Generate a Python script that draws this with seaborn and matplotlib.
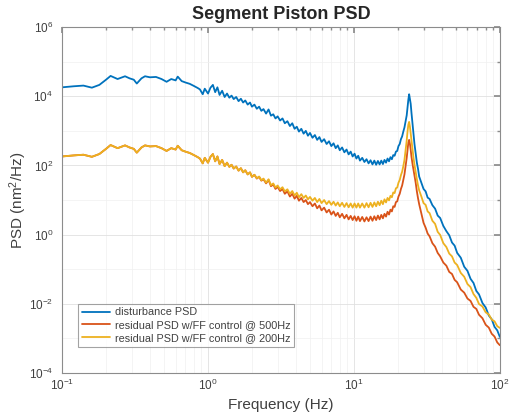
import numpy as np
import pandas as pd
import matplotlib
matplotlib.use("Agg")
import matplotlib.pyplot as plt
import seaborn as sns
from matplotlib.ticker import LogLocator, NullFormatter, FixedLocator

# frequency bins (Hz)
freq = [
    0.10, 0.12, 0.14, 0.16, 0.18, 0.20, 0.215, 0.24, 0.27, 0.29,
    0.31, 0.325, 0.35, 0.37, 0.40, 0.44, 0.48, 0.52, 0.56, 0.60,
    0.62, 0.66, 0.70, 0.75, 0.80, 0.85, 0.88, 0.92, 0.95, 1.00,
    1.04, 1.08, 1.12, 1.16, 1.20, 1.25, 1.30, 1.35, 1.40, 1.45,
    1.50, 1.56, 1.62, 1.68, 1.74, 1.80, 1.87, 1.94, 2.00, 2.08,
    2.16, 2.24, 2.32, 2.40, 2.50, 2.60, 2.70, 2.80, 2.90, 3.00,
    3.12, 3.24, 3.36, 3.50, 3.64, 3.78, 3.92, 4.06, 4.20, 4.36,
    4.52, 4.68, 4.84, 5.00, 5.20, 5.40, 5.60, 5.80, 6.00, 6.25,
    6.50, 6.75, 7.00, 7.25, 7.50, 7.75, 8.00, 8.30, 8.60, 8.90,
    9.20, 9.50, 9.80, 10.1, 10.4, 10.7, 11.0, 11.4, 11.8, 12.2,
    12.6, 13.0, 13.4, 13.8, 14.2, 14.6, 15.0, 15.4, 15.8, 16.2,
    16.6, 17.0, 17.4, 17.8, 18.2, 18.6, 19.0, 19.4, 19.8, 20.2,
    20.6, 21.0, 21.4, 21.8, 22.2, 22.6, 23.0, 23.3, 23.6, 23.9,
    24.2, 24.5, 24.8, 25.2, 25.6, 26.0, 26.5, 27.0, 27.5, 28.0,
    29.0, 30.0, 31.0, 32.0, 33.0, 34.5, 36.0, 37.5, 39.0, 41.0,
    43.0, 45.0, 47.0, 49.0, 51.0, 54.0, 57.0, 60.0, 63.0, 66.0,
    69.0, 72.0, 76.0, 80.0, 84.0, 88.0, 92.0, 96.0, 100.0,
]

# log10 of PSD (nm^2/Hz)
disturbance_log = [
    4.26, 4.29, 4.31, 4.25, 4.33, 4.48, 4.59, 4.50, 4.58, 4.52,
    4.48, 4.37, 4.52, 4.58, 4.55, 4.56, 4.50, 4.42, 4.50, 4.46,
    4.57, 4.44, 4.40, 4.36, 4.30, 4.24, 4.20, 4.06, 4.22, 4.08,
    4.25, 4.33, 4.12, 4.26, 4.04, 4.16, 3.98, 4.08, 3.96, 4.02,
    3.92, 3.98, 3.86, 3.93, 3.82, 3.88, 3.76, 3.82, 3.70, 3.76,
    3.64, 3.70, 3.58, 3.63, 3.50, 3.62, 3.44, 3.48, 3.36, 3.42,
    3.30, 3.36, 3.22, 3.28, 3.14, 3.22, 3.06, 3.12, 2.98, 3.06,
    2.92, 3.00, 2.86, 2.94, 2.80, 2.88, 2.74, 2.82, 2.68, 2.76,
    2.62, 2.70, 2.56, 2.64, 2.50, 2.58, 2.44, 2.52, 2.38, 2.46,
    2.32, 2.40, 2.26, 2.34, 2.20, 2.28, 2.14, 2.22, 2.10, 2.18,
    2.06, 2.15, 2.03, 2.14, 2.02, 2.13, 2.03, 2.14, 2.04, 2.16,
    2.08, 2.20, 2.12, 2.24, 2.18, 2.30, 2.28, 2.40, 2.42, 2.56,
    2.62, 2.76, 2.84, 2.98, 3.10, 3.28, 3.45, 3.68, 3.90, 4.06,
    3.92, 3.78, 3.52, 3.22, 2.95, 2.62, 2.35, 2.08, 1.90, 1.68,
    1.50, 1.32, 1.25, 1.07, 1.03, 0.85, 0.75, 0.55, 0.48, 0.25,
    0.10, -0.02, -0.23, -0.32, -0.53, -0.67, -0.93, -1.05, -1.28, -1.40,
    -1.63, -1.73, -1.98, -2.11, -2.34, -2.45, -2.67, -2.77, -2.96,
]

residual_500_log = [
    2.26, 2.29, 2.31, 2.25, 2.33, 2.48, 2.59, 2.50, 2.58, 2.52,
    2.48, 2.37, 2.52, 2.58, 2.55, 2.56, 2.50, 2.42, 2.50, 2.46,
    2.57, 2.44, 2.40, 2.36, 2.30, 2.24, 2.20, 2.06, 2.22, 2.08,
    2.25, 2.33, 2.12, 2.26, 2.04, 2.16, 1.98, 2.08, 1.96, 2.02,
    1.91, 1.97, 1.85, 1.92, 1.80, 1.86, 1.74, 1.80, 1.67, 1.73,
    1.62, 1.67, 1.56, 1.60, 1.48, 1.58, 1.40, 1.45, 1.32, 1.38,
    1.26, 1.32, 1.18, 1.25, 1.10, 1.18, 1.04, 1.12, 0.98, 1.06,
    0.94, 1.00, 0.88, 0.94, 0.82, 0.90, 0.76, 0.84, 0.70, 0.78,
    0.64, 0.72, 0.58, 0.67, 0.54, 0.63, 0.50, 0.60, 0.47, 0.57,
    0.44, 0.54, 0.42, 0.53, 0.40, 0.52, 0.39, 0.51, 0.38, 0.50,
    0.39, 0.52, 0.40, 0.53, 0.42, 0.55, 0.44, 0.57, 0.47, 0.60,
    0.52, 0.66, 0.58, 0.72, 0.67, 0.82, 0.80, 0.94, 0.96, 1.10,
    1.18, 1.32, 1.42, 1.58, 1.74, 1.98, 2.22, 2.45, 2.66, 2.74,
    2.62, 2.45, 2.25, 2.05, 1.88, 1.70, 1.50, 1.25, 1.05, 0.88,
    0.60, 0.34, 0.20, 0.03, -0.05, -0.25, -0.35, -0.53, -0.63, -0.81,
    -0.90, -1.08, -1.14, -1.31, -1.38, -1.59, -1.68, -1.85, -1.92, -2.09,
    -2.15, -2.32, -2.42, -2.61, -2.69, -2.87, -2.95, -3.12, -3.20,
]

residual_200_log = [
    2.26, 2.29, 2.31, 2.25, 2.33, 2.48, 2.59, 2.50, 2.58, 2.52,
    2.48, 2.37, 2.52, 2.58, 2.55, 2.56, 2.50, 2.42, 2.50, 2.46,
    2.57, 2.44, 2.40, 2.36, 2.30, 2.24, 2.20, 2.06, 2.22, 2.08,
    2.25, 2.33, 2.12, 2.26, 2.04, 2.16, 1.98, 2.08, 1.96, 2.02,
    1.91, 1.97, 1.85, 1.92, 1.80, 1.86, 1.74, 1.80, 1.67, 1.73,
    1.63, 1.68, 1.57, 1.62, 1.50, 1.60, 1.43, 1.48, 1.36, 1.42,
    1.31, 1.37, 1.25, 1.31, 1.18, 1.26, 1.13, 1.21, 1.08, 1.17,
    1.06, 1.13, 1.02, 1.09, 0.98, 1.06, 0.94, 1.03, 0.91, 1.00,
    0.88, 0.97, 0.86, 0.95, 0.84, 0.93, 0.82, 0.92, 0.80, 0.91,
    0.79, 0.90, 0.78, 0.90, 0.78, 0.90, 0.78, 0.90, 0.78, 0.91,
    0.79, 0.92, 0.80, 0.93, 0.82, 0.95, 0.85, 0.98, 0.88, 1.02,
    0.93, 1.06, 0.99, 1.12, 1.08, 1.22, 1.20, 1.34, 1.36, 1.50,
    1.58, 1.72, 1.82, 1.98, 2.16, 2.45, 2.72, 2.98, 3.18, 3.26,
    3.12, 2.92, 2.70, 2.45, 2.22, 2.02, 1.80, 1.60, 1.42, 1.28,
    1.10, 0.91, 0.86, 0.67, 0.62, 0.40, 0.31, 0.08, -0.01, -0.25,
    -0.36, -0.55, -0.63, -0.81, -0.88, -1.11, -1.22, -1.43, -1.52, -1.72,
    -1.83, -2.01, -2.08, -2.25, -2.31, -2.46, -2.51, -2.65, -2.70,
]

labels = ["disturbance PSD",
          "residual PSD w/FF control @ 500Hz",
          "residual PSD w/FF control @ 200Hz"]
colors = ["#0072BD", "#D95319", "#EDB120"]

frames = []
for name, vals in zip(labels, [disturbance_log, residual_500_log, residual_200_log]):
    frames.append(pd.DataFrame({"freq": freq,
                                "psd": 10.0 ** np.array(vals),
                                "series": name}))
df = pd.concat(frames, ignore_index=True)

sns.set_theme(style="white")
plt.rcParams["font.family"] = ["Liberation Sans", "DejaVu Sans"]
plt.rcParams["mathtext.default"] = "regular"

fig = plt.figure(figsize=(5.09, 4.18), dpi=100)
ax = fig.add_axes([0.122, 0.108, 0.860, 0.827])

sns.lineplot(data=df, x="freq", y="psd", hue="series", hue_order=labels,
             palette=colors, estimator=None, sort=False, linewidth=1.3, ax=ax)

ax.set_xscale("log")
ax.set_yscale("log")
ax.set_xlim(0.1, 100)
ax.set_ylim(1e-4, 1e6)

ax.yaxis.set_major_locator(FixedLocator([1e-4, 1e-2, 1e0, 1e2, 1e4, 1e6]))
ax.yaxis.set_minor_locator(FixedLocator([1e-3, 1e-1, 1e1, 1e3, 1e5]))
ax.yaxis.set_minor_formatter(NullFormatter())
ax.xaxis.set_minor_locator(LogLocator(base=10, subs=np.arange(2, 10)))
ax.xaxis.set_minor_formatter(NullFormatter())

ax.grid(True, which="major", color="#e0e0e0", linewidth=0.6)
ax.grid(True, which="minor", color="#f0f0f0", linewidth=0.5)
ax.set_axisbelow(True)

for sp in ax.spines.values():
    sp.set_color("#8c8c8c")
    sp.set_linewidth(0.8)
ax.tick_params(which="both", direction="in", top=True, right=True,
               colors="#8c8c8c", labelcolor="#404040", labelsize=8.5)
ax.tick_params(which="major", length=4)
ax.tick_params(which="minor", length=2)
ax.tick_params(axis="y", which="major", pad=6.5)

ax.set_title("Segment Piston PSD", fontsize=13, fontweight="bold", pad=6)
ax.set_xlabel("Frequency (Hz)", fontsize=11, color="#404040", labelpad=4)
ax.set_ylabel("PSD (nm$^2$/Hz)", fontsize=11, color="#404040", labelpad=0)

leg = ax.legend(loc="lower left", bbox_to_anchor=(0.025, 0.06), fontsize=7.8,
                frameon=True, fancybox=False, handlelength=2.6,
                borderpad=0.35, labelspacing=0.25, handletextpad=0.4)
leg.get_frame().set_edgecolor("#8c8c8c")
leg.get_frame().set_linewidth(0.8)
for t in leg.get_texts():
    t.set_color("#404040")

fig.savefig("out.png", dpi=100)
